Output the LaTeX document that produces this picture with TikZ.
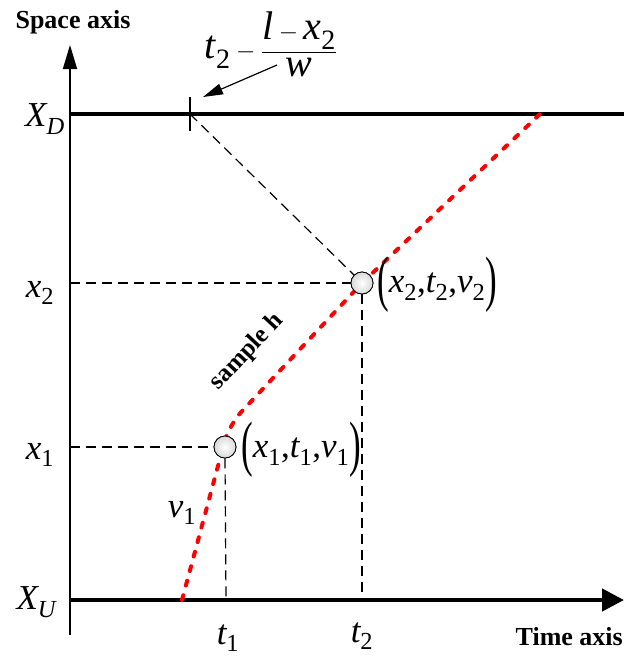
\documentclass[tikz,border=0pt]{standalone}
\usepackage{fontspec}
\setmainfont{Liberation Serif}
\usepackage{amsmath}
\usepackage{graphicx}
\usetikzlibrary{arrows.meta}
\newcommand\mv[2]{$\textit{#1}_{\text{#2}}$}
\newcommand\lpar{\raisebox{-0.42ex}{\scalebox{1}[1.75]{(}}}
\newcommand\rpar{\raisebox{-0.42ex}{\scalebox{1}[1.75]{)}}}
\begin{document}
\begin{tikzpicture}[x=1pt,y=-1pt,
  lab/.style={font=\fontsize{35}{38}\selectfont, inner sep=0pt},
  axlab/.style={font=\fontsize{26}{28}\selectfont\bfseries, inner sep=0pt},
  guide/.style={dash pattern=on 10pt off 6pt, line width=1.2pt},
  thickline/.style={line width=4.5pt},
  ptc/.style={circle, draw, line width=0.8pt, minimum size=22pt, inner sep=0pt, inner color=white, outer color=gray!30},
  redpath/.style={red, line width=4pt, dash pattern=on 5pt off 10pt, line cap=round, rounded corners=18pt}
]
\useasboundingbox (0,0) rectangle (624,657);
% coordinates
\coordinate (Ytop) at (70,45);
\coordinate (Ybot) at (70,635);
\coordinate (D0) at (70,114);
\coordinate (D1) at (624,114);
\coordinate (U0) at (70,600);
\coordinate (U1) at (624,600);
\coordinate (tickT) at (190,97);
\coordinate (tickB) at (190,131);
\coordinate (tickM) at (190,114);
\coordinate (R0) at (182,600);
\coordinate (Rc) at (229,425);
\coordinate (R2) at (540,114);
\coordinate (H2) at (70,283);
\coordinate (H1) at (70,447);
\coordinate (V1) at (226,600);
\coordinate (V2) at (362,600);
\coordinate (Astart) at (277,65);
\coordinate (Aend) at (203,97);
% axes
\draw[line width=1.8pt, -{Triangle[length=24pt,width=14pt]}] (Ybot) -- (Ytop);
\draw[thickline] (D0) -- (D1);
\draw[thickline, -{Triangle[length=22pt,width=22pt]}] (U0) -- (U1);
\draw[line width=1.2pt] (tickT) -- (tickB);
% points
\node[ptc] (P1) at (225,447) {};
\node[ptc] (P2) at (362,283) {};
% guides
\draw[guide] (H2) -- (P2.west);
\draw[guide] (H1) -- (P1.west);
\draw[guide] (P1.south) -- (V1);
\draw[guide] (P2.south) -- (V2);
\draw[guide] (tickM) -- (P2.north west);
% red trajectory
\draw[redpath] (R0) -- (Rc) -- (P2.center) -- (R2);
% redraw points on top
\node[ptc] at (P1) {};
\node[ptc] at (P2) {};
% annotation arrow
\draw[line width=1.2pt, -{Triangle[length=20pt,width=11pt]}] (Astart) -- (Aend);
% labels
\node[axlab] (sa) at (73,22) {Space axis};
\node[axlab, anchor=base east] (ta) at (623,645) {Time axis};
\node[font=\fontsize{40}{44}\selectfont, inner sep=0pt] (fr) at (271,44) {$\textit{t}_{\text{2}}-\dfrac{\textit{l}-\textit{x}_{\text{2}}}{\textit{w}}$};
\node[lab] (XD) at (45,119) {\mv{X}{\textit{D}}};
\node[lab] (x2) at (40,293) {\mv{x}{2}};
\node[lab] (x1) at (40,455) {\mv{x}{1}};
\node[lab] (XU) at (37,602) {\mv{X}{\textit{U}}};
\node[lab] (t1) at (228,638) {\mv{t}{1}};
\node[lab] (t2) at (362,636) {\mv{t}{2}};
\node[lab] (v1) at (182,513) {\mv{v}{1}};
\node[lab, anchor=west] (L2) at (377,285) {\lpar\mv{x}{2},\mv{t}{2},\mv{v}{2}\rpar};
\node[lab, anchor=west] (L1) at (241,450) {\lpar\mv{x}{1},\mv{t}{1},\mv{v}{1}\rpar};
\node[font=\fontsize{25}{26}\selectfont\bfseries, rotate=47, inner sep=0pt] (sh) at (247,352) {sample h};
\end{tikzpicture}
\end{document}
